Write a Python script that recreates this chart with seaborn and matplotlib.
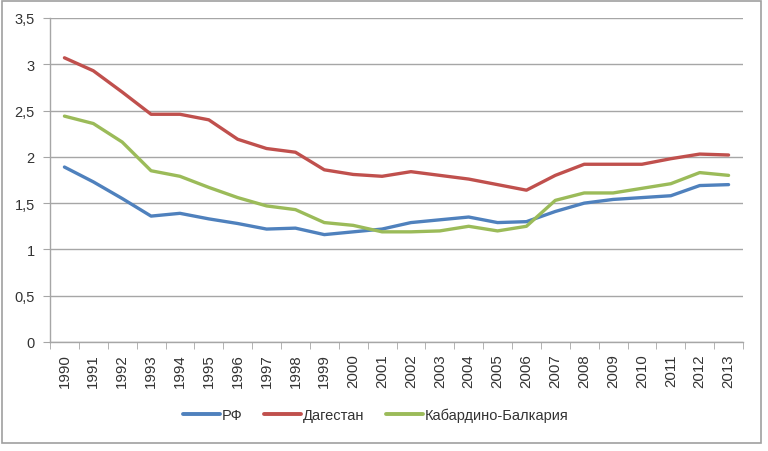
import matplotlib
matplotlib.use('Agg')
import matplotlib.pyplot as plt
import seaborn as sns
import pandas as pd
import numpy as np
from matplotlib.patches import Rectangle
from matplotlib.ticker import FuncFormatter, FixedLocator

years = list(range(1990, 2014))
rf = [1.89, 1.73, 1.55, 1.36, 1.39, 1.33, 1.28, 1.22, 1.23, 1.16, 1.19, 1.22,
      1.29, 1.32, 1.35, 1.29, 1.30, 1.41, 1.50, 1.54, 1.56, 1.58, 1.69, 1.70]
dagestan = [3.07, 2.93, 2.70, 2.46, 2.46, 2.40, 2.19, 2.09, 2.05, 1.86, 1.81, 1.79,
            1.84, 1.80, 1.76, 1.70, 1.64, 1.80, 1.92, 1.92, 1.92, 1.98, 2.03, 2.02]
kbr = [2.44, 2.36, 2.16, 1.85, 1.79, 1.67, 1.56, 1.47, 1.43, 1.29, 1.26, 1.19,
       1.19, 1.20, 1.25, 1.20, 1.25, 1.53, 1.61, 1.61, 1.66, 1.71, 1.83, 1.80]
series_names = ['РФ', 'Дагестан', 'Кабардино-Балкария']
colors = ['#4F81BD', '#C0504D', '#9BBB59']

rows = []
for name, vals in zip(series_names, [rf, dagestan, kbr]):
    for i, v in enumerate(vals):
        rows.append({'pos': i, 'year': years[i], 'value': v, 'series': name})
df = pd.DataFrame(rows)

sns.set_style('white')
plt.rcParams['font.family'] = ['Liberation Sans', 'DejaVu Sans']

fig = plt.figure(figsize=(7.68, 4.52), dpi=100)
ax = fig.add_axes([50 / 768, 1 - 343 / 452, 693 / 768, 324 / 452])

sns.lineplot(data=df, x='pos', y='value', hue='series', palette=colors,
             hue_order=series_names, linewidth=2.4, ax=ax, legend=True)

ax.set_xlim(-0.5, 23.5)
ax.set_ylim(0, 3.5)
ax.set_yticks(np.arange(0, 3.51, 0.5))
ax.yaxis.set_major_formatter(FuncFormatter(lambda v, p: ('%g' % v).replace('.', ',')))
ax.grid(axis='y', color='#a6a6a6', linewidth=1)
ax.set_axisbelow(True)

ax.set_xticks(range(len(years)))
ax.set_xticklabels([str(y) for y in years], rotation=90)
ax.xaxis.set_minor_locator(FixedLocator(np.arange(-0.5, 24, 1)))
ax.tick_params(axis='x', which='major', length=0, pad=8, labelsize=10.8, labelcolor='#333333')
ax.tick_params(axis='x', which='minor', length=5, color='#a6a6a6', direction='out', bottom=True)
ax.tick_params(axis='y', which='major', length=5, color='#a6a6a6', direction='out', left=True,
               labelsize=10.5, labelcolor='#333333', pad=6)
ax.set_xlabel('')
ax.set_ylabel('')

for s in ['top', 'right']:
    ax.spines[s].set_visible(False)
for s in ['left', 'bottom']:
    ax.spines[s].set_color('#a6a6a6')
    ax.spines[s].set_linewidth(1)

leg = ax.legend(loc='center', bbox_to_anchor=(376 / 768, 1 - 416 / 452),
                bbox_transform=fig.transFigure, ncol=3, frameon=False,
                fontsize=10.5, handlelength=2.5, columnspacing=1.5, handletextpad=0.15)
for line in leg.get_lines():
    line.set_linewidth(2.8)
for t in leg.get_texts():
    t.set_color('#333333')

fig.patches.append(Rectangle((2 / 768, 1 - 444 / 452), 759 / 768, 442 / 452,
                             transform=fig.transFigure, fill=False,
                             edgecolor='#a0a0a0', linewidth=1.2))

fig.savefig('out.png', dpi=100)
